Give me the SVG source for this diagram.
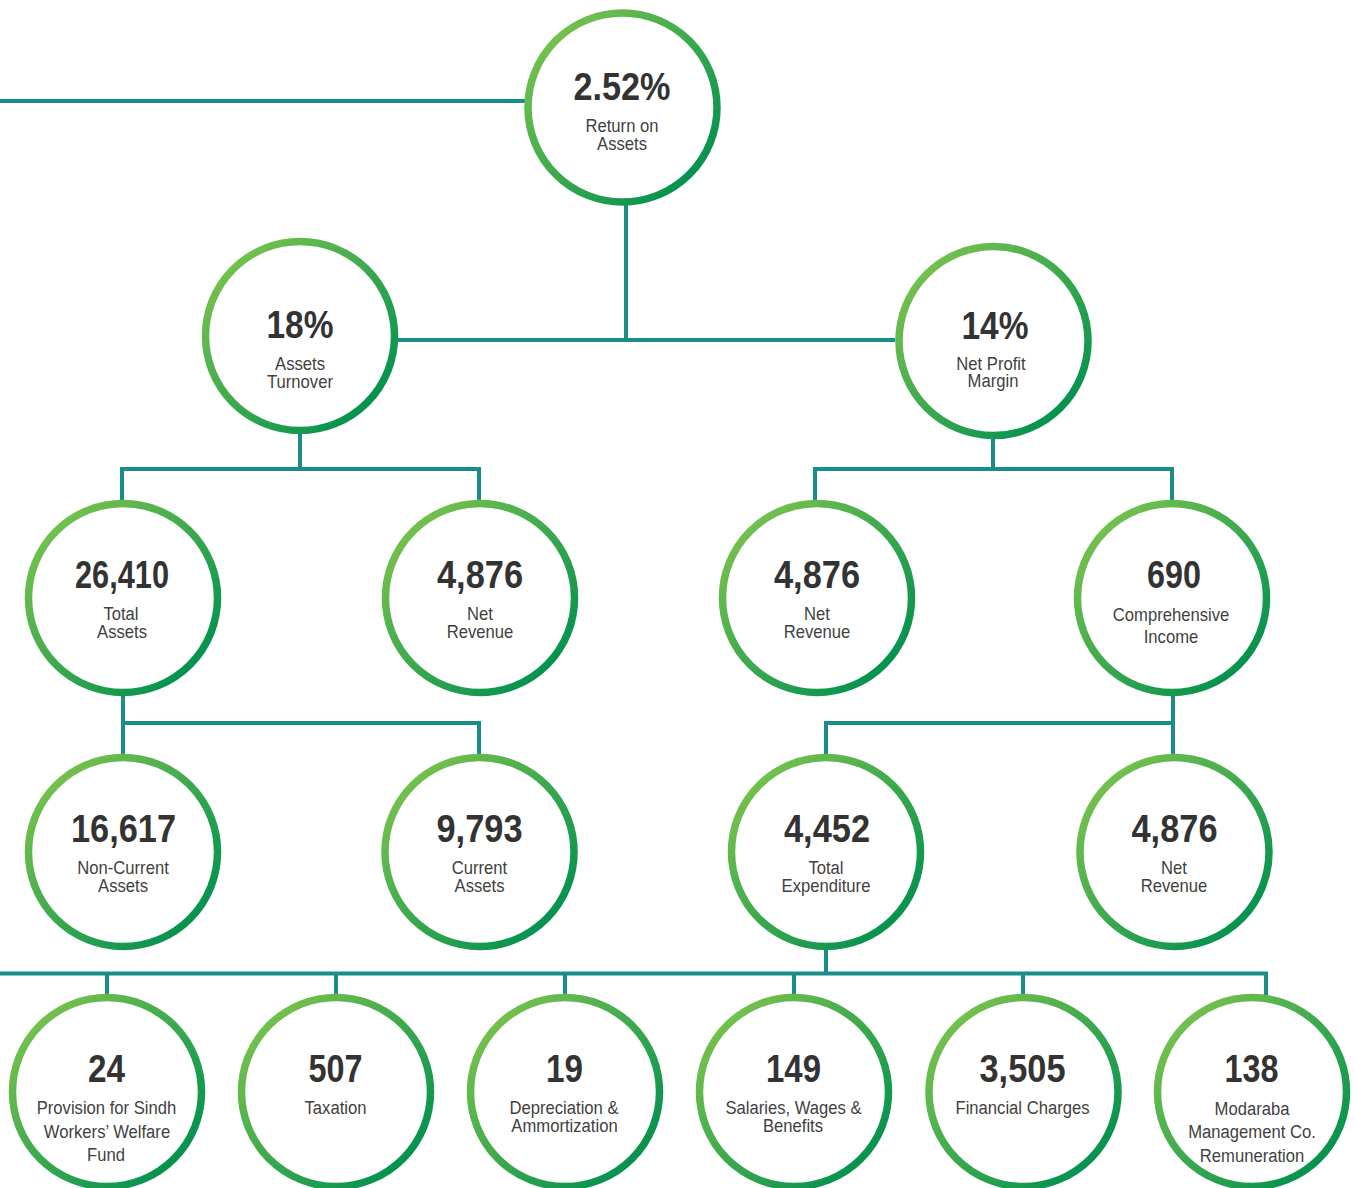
<svg xmlns="http://www.w3.org/2000/svg" width="1356" height="1188" viewBox="0 0 1356 1188">
<defs>
<linearGradient id="ring" x1="0.1" y1="0.1" x2="0.9" y2="0.9">
<stop offset="0" stop-color="#78c24d"/>
<stop offset="1" stop-color="#00904f"/>
</linearGradient>
<style>
.ring{fill:#ffffff;stroke:url(#ring);stroke-width:7.5}
.conn{fill:none;stroke:#1a8d89;stroke-width:4;stroke-linejoin:miter}
.num{font-family:"Liberation Sans",Arial,sans-serif;font-weight:bold;font-size:38px;fill:#333333;text-anchor:middle}
.lbl{font-family:"Liberation Sans",Arial,sans-serif;font-size:18.5px;fill:#3f3f3f;text-anchor:middle}
</style>
</defs>
<rect width="1356" height="1188" fill="#ffffff"/>
<g id="connectors" class="conn">
<path d="M0 101 H560"/>
<path d="M626 150 V340 M398 340 H895"/>
<path d="M300 400 V469 M122 501 V469 H479 V501"/>
<path d="M993 400 V469 M815 501 V469 H1172 V501"/>
<path d="M123 660 V755 M123 723 H479 V755"/>
<path d="M1173 660 V755 M826 755 V723 H1173"/>
<path d="M826 900 V973.5 M0 973.5 H1266 V995 M107 973.5 V995 M336 973.5 V995 M565 973.5 V995 M794 973.5 V995 M1023 973.5 V995"/>
</g>
<g id="n-roa">
<circle class="ring" cx="622.5" cy="107.5" r="94.5"/>
<text class="num" x="622" y="99.5" textLength="97" lengthAdjust="spacingAndGlyphs">2.52%</text>
<text class="lbl" transform="translate(622 131.5) scale(0.9 1)">Return on</text>
<text class="lbl" transform="translate(622 150) scale(0.9 1)">Assets</text>
</g>
<g id="n-at">
<circle class="ring" cx="300" cy="336" r="94.5"/>
<text class="num" x="300" y="338" textLength="67" lengthAdjust="spacingAndGlyphs">18%</text>
<text class="lbl" transform="translate(300 370) scale(0.9 1)">Assets</text>
<text class="lbl" transform="translate(300 388) scale(0.9 1)">Turnover</text>
</g>
<g id="n-npm">
<circle class="ring" cx="993.5" cy="341" r="94.5"/>
<text class="num" x="995" y="338.5" textLength="67" lengthAdjust="spacingAndGlyphs">14%</text>
<text class="lbl" transform="translate(991 370) scale(0.9 1)">Net Profit</text>
<text class="lbl" transform="translate(993 387) scale(0.9 1)">Margin</text>
</g>
<g id="n-ta">
<circle class="ring" cx="123" cy="598" r="94.5"/>
<text class="num" x="122" y="588" textLength="94" lengthAdjust="spacingAndGlyphs">26,410</text>
<text class="lbl" transform="translate(121 620) scale(0.9 1)">Total</text>
<text class="lbl" transform="translate(122 637.5) scale(0.9 1)">Assets</text>
</g>
<g id="n-nr1">
<circle class="ring" cx="480" cy="598" r="94.5"/>
<text class="num" x="480" y="588" textLength="86" lengthAdjust="spacingAndGlyphs">4,876</text>
<text class="lbl" transform="translate(480 620) scale(0.9 1)">Net</text>
<text class="lbl" transform="translate(480 637.5) scale(0.9 1)">Revenue</text>
</g>
<g id="n-nr2">
<circle class="ring" cx="817" cy="598" r="94.5"/>
<text class="num" x="817" y="588" textLength="86" lengthAdjust="spacingAndGlyphs">4,876</text>
<text class="lbl" transform="translate(817 620) scale(0.9 1)">Net</text>
<text class="lbl" transform="translate(817 637.5) scale(0.9 1)">Revenue</text>
</g>
<g id="n-ci">
<circle class="ring" cx="1172" cy="598" r="94.5"/>
<text class="num" x="1174" y="588" textLength="54" lengthAdjust="spacingAndGlyphs">690</text>
<text class="lbl" transform="translate(1171 620.5) scale(0.9 1)">Comprehensive</text>
<text class="lbl" transform="translate(1171 643) scale(0.9 1)">Income</text>
</g>
<g id="n-nca">
<circle class="ring" cx="123" cy="852" r="94.5"/>
<text class="num" x="123.5" y="842" textLength="105" lengthAdjust="spacingAndGlyphs">16,617</text>
<text class="lbl" transform="translate(123 873.5) scale(0.9 1)">Non-Current</text>
<text class="lbl" transform="translate(123 891.5) scale(0.9 1)">Assets</text>
</g>
<g id="n-ca">
<circle class="ring" cx="479.5" cy="852" r="94.5"/>
<text class="num" x="479.5" y="842" textLength="86" lengthAdjust="spacingAndGlyphs">9,793</text>
<text class="lbl" transform="translate(479.5 873.5) scale(0.9 1)">Current</text>
<text class="lbl" transform="translate(479.5 891.5) scale(0.9 1)">Assets</text>
</g>
<g id="n-te">
<circle class="ring" cx="826" cy="852" r="94.5"/>
<text class="num" x="827" y="842" textLength="86" lengthAdjust="spacingAndGlyphs">4,452</text>
<text class="lbl" transform="translate(826 873.5) scale(0.9 1)">Total</text>
<text class="lbl" transform="translate(826 891.5) scale(0.9 1)">Expenditure</text>
</g>
<g id="n-nr3">
<circle class="ring" cx="1174.5" cy="852" r="94.5"/>
<text class="num" x="1174.5" y="842" textLength="86" lengthAdjust="spacingAndGlyphs">4,876</text>
<text class="lbl" transform="translate(1174 873.5) scale(0.9 1)">Net</text>
<text class="lbl" transform="translate(1174 891.5) scale(0.9 1)">Revenue</text>
</g>
<g id="n-wwf">
<circle class="ring" cx="107" cy="1092" r="94.5"/>
<text class="num" x="106.5" y="1082" textLength="37" lengthAdjust="spacingAndGlyphs">24</text>
<text class="lbl" transform="translate(106.5 1114) scale(0.9 1)">Provision for Sindh</text>
<text class="lbl" transform="translate(107 1137.5) scale(0.9 1)">Workers’ Welfare</text>
<text class="lbl" transform="translate(106 1161) scale(0.9 1)">Fund</text>
</g>
<g id="n-tax">
<circle class="ring" cx="336" cy="1092" r="94.5"/>
<text class="num" x="335.5" y="1082" textLength="54" lengthAdjust="spacingAndGlyphs">507</text>
<text class="lbl" transform="translate(335.5 1114) scale(0.9 1)">Taxation</text>
</g>
<g id="n-dep">
<circle class="ring" cx="565" cy="1092" r="94.5"/>
<text class="num" x="564.5" y="1082" textLength="37" lengthAdjust="spacingAndGlyphs">19</text>
<text class="lbl" transform="translate(564 1114) scale(0.9 1)">Depreciation &amp;</text>
<text class="lbl" transform="translate(564.5 1132) scale(0.9 1)">Ammortization</text>
</g>
<g id="n-sal">
<circle class="ring" cx="794" cy="1092" r="94.5"/>
<text class="num" x="793.5" y="1082" textLength="55" lengthAdjust="spacingAndGlyphs">149</text>
<text class="lbl" transform="translate(793.5 1114) scale(0.9 1)">Salaries, Wages &amp;</text>
<text class="lbl" transform="translate(793 1132) scale(0.9 1)">Benefits</text>
</g>
<g id="n-fin">
<circle class="ring" cx="1023.5" cy="1092" r="94.5"/>
<text class="num" x="1022.5" y="1082" textLength="86" lengthAdjust="spacingAndGlyphs">3,505</text>
<text class="lbl" transform="translate(1022.5 1114) scale(0.9 1)">Financial Charges</text>
</g>
<g id="n-mmc">
<circle class="ring" cx="1252" cy="1092" r="94.5"/>
<text class="num" x="1251.5" y="1082" textLength="54" lengthAdjust="spacingAndGlyphs">138</text>
<text class="lbl" transform="translate(1252 1115) scale(0.9 1)">Modaraba</text>
<text class="lbl" transform="translate(1252 1138) scale(0.9 1)">Management Co.</text>
<text class="lbl" transform="translate(1252 1161.5) scale(0.9 1)">Remuneration</text>
</g>
</svg>
